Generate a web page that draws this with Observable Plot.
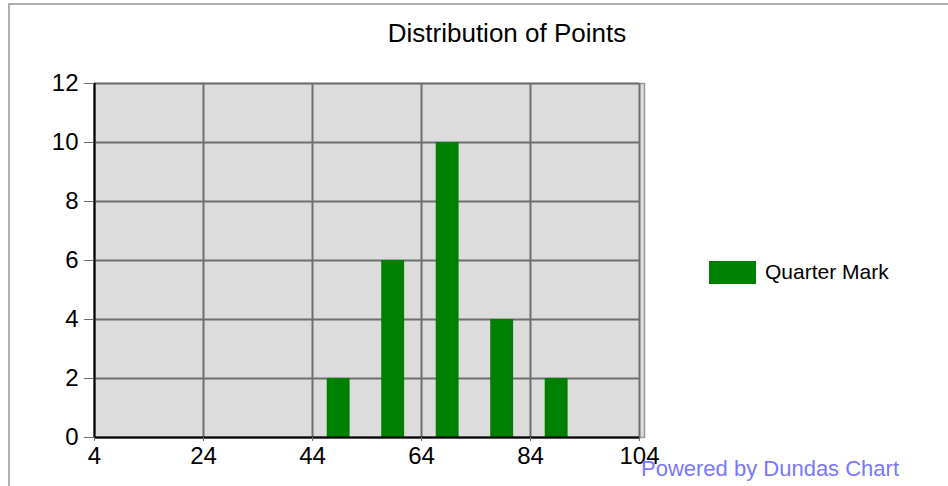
<!DOCTYPE html>
<html>
<head>
<meta charset="utf-8">
<script src="https://cdn.jsdelivr.net/npm/d3@7"></script>
<script src="https://cdn.jsdelivr.net/npm/@observablehq/plot@0.6"></script>
<style>
  html, body { margin: 0; padding: 0; background: #fff; }
  #wrap { position: relative; width: 948px; height: 486px; overflow: hidden; font-family: "Liberation Sans", Arial, sans-serif; }
  #border { position: absolute; left: 8px; top: 3px; width: 960px; height: 500px; border-left: 2px solid #b0b0b0; border-top: 2px solid #b0b0b0; box-sizing: border-box; }
  #title { position: absolute; left: 257px; width: 500px; top: 19px; text-align: center; font-size: 26px; line-height: 28px; color: #000; }
  #legend { position: absolute; left: 709px; top: 260px; display: flex; align-items: center; }
  #legend .sw { width: 47px; height: 23px; background: #008000; margin-right: 9px; }
  #legend .lb { font-size: 21px; color: #000; }
  #credit { position: absolute; left: 641px; top: 456px; font-size: 22px; color: #7878ff; white-space: nowrap; }
  #chart { position: absolute; left: 0; top: 0; }
  #chart svg text { font-family: "Liberation Sans Narrow", "Liberation Sans", Arial, sans-serif; }
</style>
</head>
<body>
<div id="wrap">
  <div id="border"></div>
  <div id="chart"></div>
  <div id="title">Distribution of Points</div>
  <div id="legend"><div class="sw"></div><div class="lb">Quarter Mark</div></div>
  <div id="credit">Powered by Dundas Chart</div>
</div>
<script>
const seriesName = "Quarter Mark";
const xCenters = [48.8, 58.8, 68.8, 78.8, 88.8];
const counts = [2, 6, 10, 4, 2];
const xTicks = [4, 24, 44, 64, 84, 104];
const yTicks = [0, 2, 4, 6, 8, 10, 12];

const halfWidth = 2.1;
const data = xCenters.map((x, i) => ({x, count: counts[i]}));

const chart = Plot.plot({
  width: 948,
  height: 486,
  marginLeft: 94,
  marginRight: 309,
  marginTop: 83,
  marginBottom: 49,
  style: { background: "transparent", fontFamily: "Liberation Sans Narrow, Liberation Sans, Arial, sans-serif", fontSize: "24px" },
  x: { domain: [4, 104] },
  y: { domain: [0, 12] },
  marks: [
    Plot.frame({ fill: "#dcdcdc", stroke: "#9a9a9a", strokeWidth: 1.5, insetRight: -5 }),
    Plot.gridX({ ticks: xTicks, stroke: "#6e6e6e", strokeOpacity: 1, strokeWidth: 2 }),
    Plot.gridY({ ticks: yTicks, stroke: "#6e6e6e", strokeOpacity: 1, strokeWidth: 2 }),
    Plot.rectY(data, { x1: d => d.x - halfWidth, x2: d => d.x + halfWidth, y1: 0, y2: "count", fill: "#008000" }),
    Plot.ruleY([0], { stroke: "#000", strokeWidth: 2 }),
    Plot.ruleX([4], { stroke: "#000", strokeWidth: 2 }),
    Plot.axisX({ ticks: xTicks, tickSize: 4, tickPadding: 5, stroke: "#6e6e6e", fill: "#000", fontSize: 24, label: null }),
    Plot.axisY({ ticks: yTicks, tickSize: 10, tickPadding: 6, stroke: "#6e6e6e", fill: "#000", fontSize: 24, label: null })
  ]
});
document.getElementById("chart").appendChild(chart);
</script>
</body>
</html>
